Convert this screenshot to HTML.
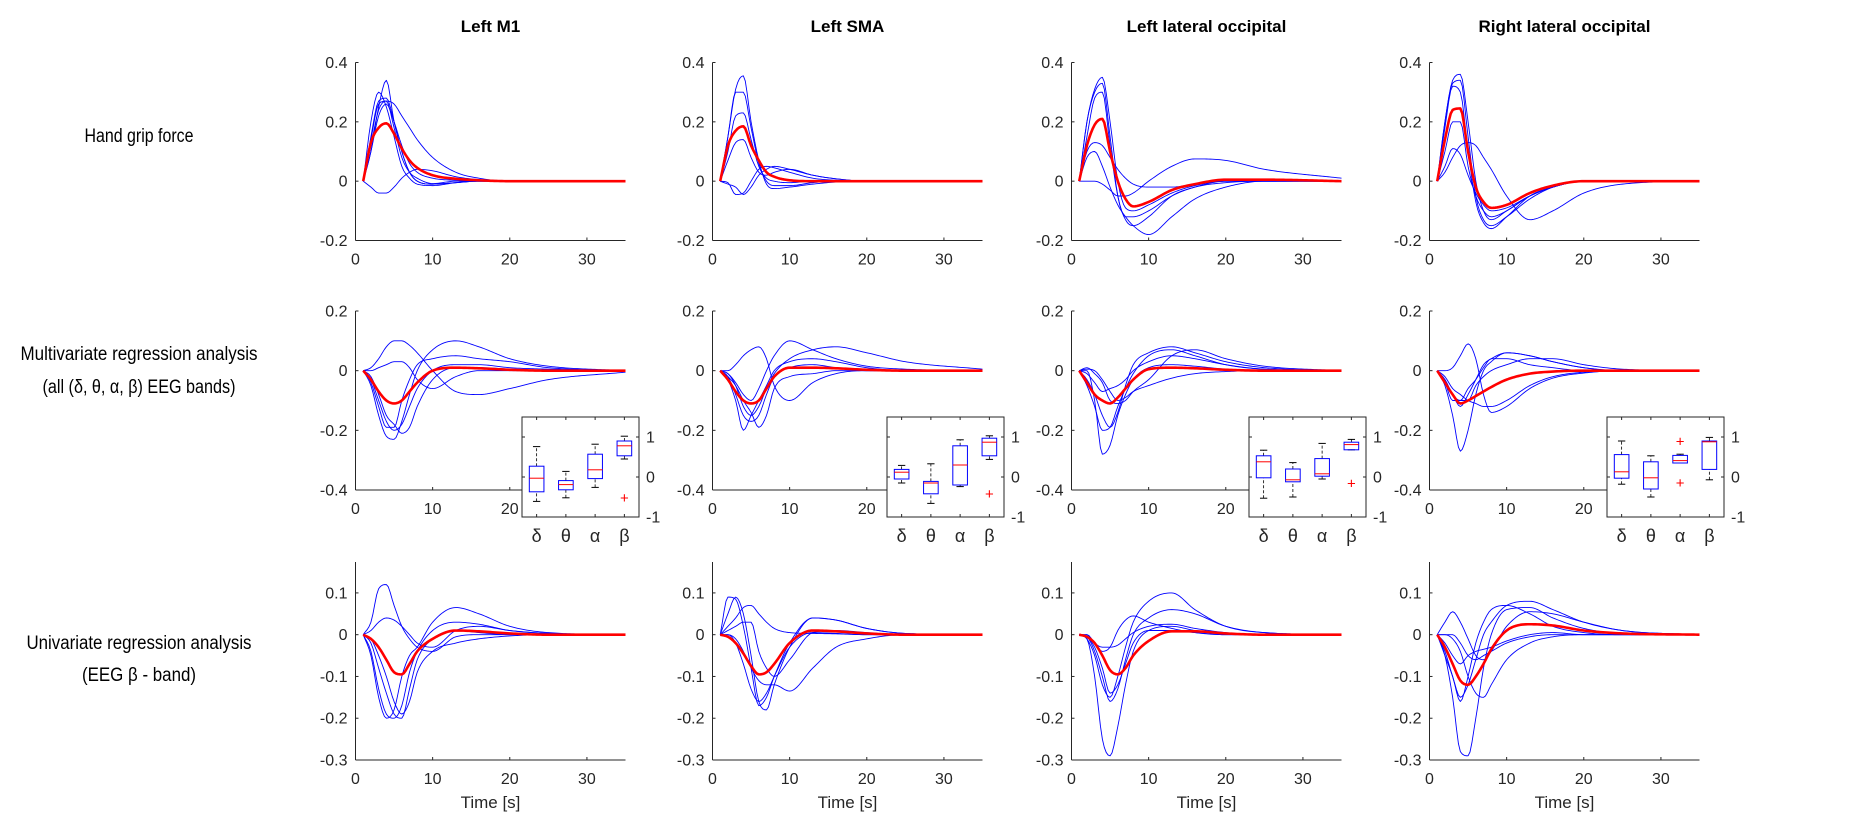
<!DOCTYPE html>
<html><head><meta charset="utf-8"><style>
html,body{margin:0;padding:0;background:#fff;}
svg{display:block;font-family:"Liberation Sans",Arial,sans-serif;}
</style></head><body>
<svg id="fig" width="1865" height="829" viewBox="0 0 1865 829" xmlns="http://www.w3.org/2000/svg">
<rect x="0" y="0" width="1865" height="829" fill="#fff"/>
<g font-family="'Liberation Sans',Arial,sans-serif" font-size="19" fill="#000" text-anchor="middle">
<text x="139" y="142" textLength="109" lengthAdjust="spacingAndGlyphs">Hand grip force</text>
<text x="139" y="360" textLength="237" lengthAdjust="spacingAndGlyphs">Multivariate regression analysis</text>
<text x="139" y="393" textLength="193" lengthAdjust="spacingAndGlyphs">(all (δ, θ, α, β) EEG bands)</text>
<text x="139" y="649" textLength="225" lengthAdjust="spacingAndGlyphs">Univariate regression analysis</text>
<text x="139" y="681" textLength="114" lengthAdjust="spacingAndGlyphs">(EEG β - band)</text>
</g>
<g id="plots"></g>
</svg>
<script>
// ---- data ----
const knotTimes = [1,2,3,4,5,6,7,8,10,13,16,20,25,35];
const colTitles = ["Left M1","Left SMA","Left lateral occipital","Right lateral occipital"];
const xTicks = [0,10,20,30];
const row1Ticks = [-0.2,0,0.2,0.4];
const row2Ticks = [-0.4,-0.2,0,0.2];
const row3Ticks = [-0.3,-0.2,-0.1,0,0.1];
const insetCats = ["δ","θ","α","β"];
const insetTicks = [-1,0,1];

// Row 1: hand grip force
const r1c1_red = [0,0.13,0.18,0.195,0.16,0.11,0.07,0.045,0.02,0.008,0.003,0,0,0];
const r1c1_blue = [
 [0,0.1,0.25,0.34,0.2,0.1,0.03,0,-0.01,-0.005,0,0,0,0],
 [0,0.2,0.3,0.25,0.15,0.05,0.01,-0.01,-0.015,-0.005,0,0,0,0],
 [0,0.15,0.27,0.28,0.2,0.1,0.03,0,-0.01,-0.005,0,0,0,0],
 [0,0.12,0.24,0.27,0.26,0.22,0.18,0.14,0.08,0.03,0.01,0,0,0],
 [0,-0.02,-0.04,-0.04,-0.02,0.01,0.03,0.04,0.035,0.015,0.005,0,0,0],
 [0,0.14,0.26,0.27,0.18,0.08,0.03,0.01,-0.008,0,0,0,0,0],
 [0,0.1,0.22,0.26,0.2,0.12,0.06,0.03,0.01,0.003,0,0,0,0]];
const r1c2_red = [0,0.12,0.17,0.185,0.12,0.07,0.03,0.015,0.003,0,0,0,0,0];
const r1c2_blue = [
 [0,0.15,0.31,0.355,0.2,0.07,-0.01,-0.025,-0.02,-0.01,-0.003,0,0,0],
 [0,0.15,0.3,0.3,0.18,0.06,0,-0.015,-0.015,-0.005,0,0,0,0],
 [0,0.1,0.22,0.23,0.14,0.05,0.01,0,-0.005,0,0,0,0,0],
 [0,0.07,0.13,0.14,0.08,0.03,0.02,0.03,0.04,0.02,0.008,0,0,0],
 [0,-0.005,-0.045,-0.04,0,0.04,0.05,0.045,0.03,0.01,0.003,0,0,0],
 [0,-0.01,-0.02,-0.045,-0.02,0.02,0.04,0.05,0.04,0.02,0.008,0,0,0]];
const r1c3_red = [0,0.12,0.19,0.21,0.1,0,-0.06,-0.085,-0.07,-0.03,-0.01,0.005,0.005,0];
const r1c3_blue = [
 [0,0.2,0.31,0.35,0.2,0,-0.09,-0.1,-0.08,-0.04,-0.015,0,0,0],
 [0,0.2,0.3,0.33,0.15,-0.05,-0.13,-0.15,-0.12,-0.05,-0.02,0,0,0],
 [0,0.15,0.28,0.3,0.12,-0.05,-0.12,-0.12,-0.1,-0.05,-0.02,-0.005,0,0],
 [0,0.08,0.1,0.05,-0.02,-0.08,-0.12,-0.15,-0.18,-0.12,-0.06,-0.02,0,0],
 [0,0,0,-0.01,-0.03,-0.05,-0.05,-0.04,0,0.05,0.075,0.07,0.04,0.01],
 [0,0.1,0.13,0.12,0.08,0.04,0.01,-0.01,-0.02,-0.02,-0.01,0,0,0]];
const r1c4_red = [0,0.14,0.24,0.245,0.1,-0.02,-0.07,-0.09,-0.08,-0.04,-0.015,0,0,0];
const r1c4_blue = [
 [0,0.2,0.34,0.36,0.2,0,-0.1,-0.13,-0.1,-0.05,-0.02,0,0,0],
 [0,0.2,0.33,0.34,0.15,-0.05,-0.13,-0.15,-0.12,-0.06,-0.02,0,0,0],
 [0,0.18,0.32,0.3,0.1,-0.07,-0.14,-0.16,-0.12,-0.05,-0.02,0,0,0],
 [0,0.1,0.2,0.2,0.05,-0.05,-0.1,-0.12,-0.1,-0.05,-0.02,0,0,0],
 [0,0.03,0.08,0.12,0.13,0.12,0.08,0.04,-0.05,-0.13,-0.1,-0.04,-0.01,0],
 [0,0.05,0.11,0.09,0.02,-0.04,-0.08,-0.1,-0.09,-0.05,-0.02,0,0,0]];

// Row 2: multivariate
const r2c1_red = [0,-0.03,-0.07,-0.1,-0.11,-0.1,-0.07,-0.04,0,0.01,0.008,0.003,0,0];
const r2c1_blue = [
 [0,0.01,0.04,0.08,0.1,0.1,0.085,0.06,0,-0.07,-0.08,-0.06,-0.03,-0.005],
 [0,0,0.01,0.02,0.03,0.03,0.01,-0.03,-0.06,-0.02,0,0,0,0],
 [0,-0.05,-0.15,-0.22,-0.23,-0.17,-0.08,0,0.07,0.1,0.08,0.04,0.015,0],
 [0,-0.04,-0.12,-0.19,-0.19,-0.1,-0.03,0.02,0.04,0.05,0.04,0.03,0.01,0],
 [0,-0.03,-0.1,-0.17,-0.2,-0.18,-0.12,-0.06,0,0.02,0.02,0.01,0.005,0],
 [0,-0.02,-0.08,-0.15,-0.18,-0.21,-0.19,-0.12,-0.03,0.01,0.01,0.005,0,0]];
const r2c2_red = [0,-0.03,-0.07,-0.1,-0.11,-0.1,-0.06,-0.02,0.01,0.01,0.008,0.003,0,0];
const r2c2_blue = [
 [0,0,0.02,0.05,0.07,0.08,0.04,-0.05,-0.1,-0.04,-0.01,0,0,0],
 [0,-0.01,-0.04,-0.08,-0.1,-0.06,0,0.05,0.1,0.07,0.04,0.015,0.005,0],
 [0,-0.01,-0.05,-0.12,-0.15,-0.12,-0.06,-0.01,0.04,0.07,0.08,0.06,0.03,0.005],
 [0,-0.03,-0.1,-0.2,-0.15,-0.1,-0.05,0,0.03,0.04,0.03,0.01,0,0],
 [0,-0.02,-0.08,-0.15,-0.17,-0.15,-0.08,-0.02,0.01,0.02,0.01,0,0,0],
 [0,-0.02,-0.05,-0.1,-0.14,-0.19,-0.15,-0.06,-0.02,-0.01,0,0,0,0]];
const r2c3_red = [0,-0.04,-0.08,-0.1,-0.11,-0.09,-0.06,-0.03,0.005,0.01,0.008,0.003,0,0];
const r2c3_blue = [
 [0,0,-0.1,-0.28,-0.25,-0.15,-0.08,-0.03,0.01,0.02,0.015,0.005,0,0],
 [0,-0.05,-0.12,-0.2,-0.19,-0.12,-0.06,-0.01,0.05,0.07,0.05,0.02,0.005,0],
 [0,-0.03,-0.08,-0.15,-0.19,-0.14,-0.05,0.02,0.06,0.08,0.06,0.03,0.01,0],
 [0,0.01,-0.01,-0.04,-0.1,-0.11,-0.1,-0.07,-0.03,0.05,0.07,0.04,0.015,0],
 [0,0.005,0,-0.03,-0.07,-0.1,-0.09,-0.07,-0.05,-0.025,-0.01,-0.003,0,0],
 [0,-0.01,-0.04,-0.07,-0.06,-0.05,-0.03,0,0.03,0.05,0.04,0.02,0.005,0]];
const r2c4_red = [0,-0.04,-0.08,-0.11,-0.1,-0.085,-0.07,-0.055,-0.03,-0.01,-0.003,0,0,0];
const r2c4_blue = [
 [0,0,0.01,0.05,0.09,0.04,-0.08,-0.14,-0.12,-0.06,-0.025,-0.008,0,0],
 [0,-0.05,-0.15,-0.27,-0.2,-0.08,0,0.03,0.06,0.05,0.03,0.01,0,0],
 [0,-0.03,-0.08,-0.12,-0.08,-0.03,0.02,0.04,0.06,0.05,0.03,0.01,0,0],
 [0,-0.04,-0.1,-0.1,-0.06,-0.03,0.01,0.04,0.04,0.02,0.01,0,0,0],
 [0,-0.02,-0.06,-0.08,-0.1,-0.11,-0.12,-0.12,-0.1,-0.05,-0.02,-0.005,0,0],
 [0,-0.03,-0.08,-0.1,-0.1,-0.05,-0.02,0,0.02,0.04,0.04,0.02,0.005,0]];

// Row 3: univariate
const r3c1_red = [0,-0.01,-0.03,-0.06,-0.09,-0.095,-0.07,-0.04,-0.01,0.01,0.008,0.003,0,0];
const r3c1_blue = [
 [0,0.03,0.11,0.12,0.07,0.02,-0.01,-0.03,-0.04,-0.005,0,0,0,0],
 [0,0.01,0.03,0.04,0.035,0.02,0,-0.02,-0.03,0.01,0.02,0.01,0.003,0],
 [0,-0.05,-0.15,-0.2,-0.18,-0.1,-0.05,-0.03,0.03,0.065,0.05,0.02,0.005,0],
 [0,-0.04,-0.13,-0.19,-0.2,-0.17,-0.09,-0.04,0.01,0.03,0.025,0.01,0.003,0],
 [0,-0.02,-0.08,-0.14,-0.19,-0.2,-0.13,-0.06,-0.01,0.01,0.005,0,0,0],
 [0,-0.01,-0.05,-0.1,-0.16,-0.19,-0.16,-0.09,-0.04,-0.02,-0.01,-0.003,0,0]];
const r3c2_red = [0,-0.005,-0.02,-0.045,-0.075,-0.095,-0.09,-0.07,-0.02,0.01,0.008,0.003,0,0];
const r3c2_blue = [
 [0,0.09,0.085,0.02,-0.08,-0.17,-0.15,-0.1,-0.02,0.04,0.035,0.015,0.003,0],
 [0,0.05,0.09,0.05,-0.05,-0.16,-0.18,-0.12,-0.03,0.04,0.035,0.015,0.003,0],
 [0,0.02,0.04,0.065,0.07,0.05,0.03,0.015,0.005,0.003,0.002,0,0,0],
 [0,0.01,0.02,0.03,0.03,-0.04,-0.08,-0.1,-0.06,0.005,0.01,0.005,0,0],
 [0,0,-0.02,-0.07,-0.13,-0.16,-0.14,-0.1,-0.03,0.005,0.003,0,0,0],
 [0,0,-0.01,-0.04,-0.08,-0.11,-0.12,-0.12,-0.135,-0.08,-0.03,-0.01,0,0]];
const r3c3_red = [0,-0.005,-0.02,-0.05,-0.085,-0.095,-0.08,-0.05,-0.015,0.008,0.008,0.003,0,0];
const r3c3_blue = [
 [0,-0.01,-0.1,-0.25,-0.29,-0.22,-0.12,-0.04,0.01,0.02,0.01,0.003,0,0],
 [0,-0.01,-0.05,-0.12,-0.15,-0.1,-0.03,0.03,0.08,0.1,0.06,0.02,0.005,0],
 [0,-0.005,-0.04,-0.1,-0.16,-0.13,-0.06,0,0.04,0.06,0.05,0.02,0.005,0],
 [0,0,-0.02,-0.04,-0.03,0.01,0.035,0.045,0.03,0.015,0.005,0,0,0],
 [0,0,-0.02,-0.03,-0.03,-0.025,-0.01,0.005,0.02,0.025,0.015,0.005,0,0],
 [0,-0.005,-0.03,-0.08,-0.14,-0.12,-0.07,-0.02,0.01,0.01,0.005,0,0,0]];
const r3c4_red = [0,-0.03,-0.07,-0.11,-0.12,-0.1,-0.07,-0.035,0.01,0.025,0.022,0.01,0.003,0];
const r3c4_blue = [
 [0,0.03,0.055,0.03,-0.01,-0.05,-0.06,-0.04,0.02,0.055,0.05,0.03,0.01,0],
 [0,-0.05,-0.15,-0.28,-0.29,-0.2,-0.08,0,0.06,0.065,0.04,0.015,0.003,0],
 [0,-0.04,-0.1,-0.15,-0.12,-0.06,0,0.03,0.07,0.08,0.06,0.03,0.01,0],
 [0,-0.05,-0.1,-0.16,-0.1,-0.02,0.03,0.06,0.07,0.05,0.02,0.005,0,0],
 [0,0,-0.01,-0.04,-0.1,-0.14,-0.15,-0.12,-0.06,-0.02,-0.005,0,0,0],
 [0,0,0,-0.02,-0.05,-0.06,-0.05,-0.04,-0.02,-0.005,0,0,0,0],
 [0,-0.02,-0.05,-0.07,-0.05,-0.04,-0.035,-0.03,-0.015,0,0.005,0,0,0]];

// Inset boxplots: [whiskerLow, q1, median, q3, whiskerHigh] per band (δ, θ, α, β)
const inset1_stats = [[-0.61,-0.37,-0.03,0.27,0.76],[-0.52,-0.32,-0.19,-0.09,0.14],[-0.26,-0.04,0.18,0.57,0.82],[0.45,0.53,0.78,0.9,1.02]];
const inset1_outliers = [[],[],[],[-0.53]];
const inset2_stats = [[-0.15,-0.05,0.12,0.19,0.29],[-0.66,-0.42,-0.15,-0.11,0.33],[-0.24,-0.2,0.3,0.78,0.93],[0.44,0.53,0.87,0.97,1.03]];
const inset2_outliers = [[],[],[],[-0.43]];
const inset3_stats = [[-0.53,-0.02,0.38,0.53,0.67],[-0.5,-0.12,-0.07,0.2,0.36],[-0.05,0.02,0.08,0.46,0.84],[0.68,0.68,0.81,0.87,0.94]];
const inset3_outliers = [[],[],[],[-0.16]];
const inset4_stats = [[-0.18,-0.03,0.13,0.56,0.9],[-0.5,-0.3,-0.02,0.38,0.53],[0.35,0.35,0.41,0.54,0.57],[-0.07,0.19,0.88,0.9,0.99]];
const inset4_outliers = [[],[],[0.89,-0.15],[]];

// ---- layout ----
const NS = "http://www.w3.org/2000/svg";
const colX = [355.5, 712.5, 1071.5, 1429.5];
const plotW = 270, xMax = 35;
const rowsCfg = [
 {top:62.5, bot:240.5, ymin:-0.2, ymax:0.4, ticks:row1Ticks, fmt:v=>v===0?"0":v.toFixed(1)},
 {top:311, bot:490, ymin:-0.4, ymax:0.2, ticks:row2Ticks, fmt:v=>v===0?"0":v.toFixed(1)},
 {top:562, bot:760, ymin:-0.3, ymax:0.174, ticks:row3Ticks, fmt:v=>v===0?"0":v.toFixed(1)}];
const panelData = [
 [[r1c1_red,r1c1_blue],[r1c2_red,r1c2_blue],[r1c3_red,r1c3_blue],[r1c4_red,r1c4_blue]],
 [[r2c1_red,r2c1_blue],[r2c2_red,r2c2_blue],[r2c3_red,r2c3_blue],[r2c4_red,r2c4_blue]],
 [[r3c1_red,r3c1_blue],[r3c2_red,r3c2_blue],[r3c3_red,r3c3_blue],[r3c4_red,r3c4_blue]]];
const insets = [
 {l:522, r:639, stats:inset1_stats, out:inset1_outliers},
 {l:887, r:1004, stats:inset2_stats, out:inset2_outliers},
 {l:1249, r:1366, stats:inset3_stats, out:inset3_outliers},
 {l:1607, r:1724, stats:inset4_stats, out:inset4_outliers}];
const insetTop = 417, insetBot = 517, insetYmin = -1, insetYmax = 1.5;
const AX = "#262626";

function mk(tag, attrs, parent){
  const e = document.createElementNS(NS, tag);
  for (const k in attrs) e.setAttribute(k, attrs[k]);
  parent.appendChild(e); return e;
}
function monotone(xs, ys){
  const n = xs.length, d = [], m = new Array(n);
  for (let i=0;i<n-1;i++) d.push((ys[i+1]-ys[i])/(xs[i+1]-xs[i]));
  m[0]=d[0]; m[n-1]=d[n-2];
  for (let i=1;i<n-1;i++) m[i] = (d[i-1]*d[i]<=0)?0:(d[i-1]+d[i])/2;
  for (let i=0;i<n-1;i++){
    if (d[i]===0){m[i]=0;m[i+1]=0;continue;}
    const a=m[i]/d[i], b=m[i+1]/d[i], s=a*a+b*b;
    if (s>9){const t=3/Math.sqrt(s); m[i]=t*a*d[i]; m[i+1]=t*b*d[i];}
  }
  return function(x){
    let i=0; while(i<n-2 && x>xs[i+1]) i++;
    const h=xs[i+1]-xs[i], t=(x-xs[i])/h, t2=t*t, t3=t2*t;
    return (2*t3-3*t2+1)*ys[i]+(t3-2*t2+t)*h*m[i]+(-2*t3+3*t2)*ys[i+1]+(t3-t2)*h*m[i+1];
  };
}

const root = document.getElementById("plots");
rowsCfg.forEach((rc, ri) => {
  colX.forEach((x0, ci) => {
    const g = mk("g", {}, root);
    
    
    const sx = t => x0 + t * plotW / xMax;
    const sy = v => rc.bot - (v - rc.ymin) * (rc.bot - rc.top) / (rc.ymax - rc.ymin);
    if (ri === 0) {
      const tt = mk("text", {x: x0 + plotW/2, y: 32, "text-anchor":"middle", "font-size":17, "font-weight":"bold", fill:"#000"}, g);
      tt.textContent = colTitles[ci];
      
      
    }
    const yax = mk("line", {x1:x0, y1:rc.top, x2:x0, y2:rc.bot, stroke:AX, "stroke-width":1}, g);
    
    
    const xax = mk("line", {x1:x0, y1:rc.bot, x2:x0+plotW, y2:rc.bot, stroke:AX, "stroke-width":1}, g);
    
    
    rc.ticks.forEach(v => {
      const y = sy(v);
      mk("line", {x1:x0, y1:y, x2:x0+3, y2:y, stroke:AX, "stroke-width":1}, g);
      const lb = mk("text", {x:x0-8, y:y+5.5, "text-anchor":"end", "font-size":16, fill:AX}, g);
      lb.textContent = rc.fmt(v);
      
      
    });
    xTicks.forEach(v => {
      const x = sx(v);
      mk("line", {x1:x, y1:rc.bot, x2:x, y2:rc.bot-3, stroke:AX, "stroke-width":1}, g);
      const lb = mk("text", {x:x, y:rc.bot+24, "text-anchor":"middle", "font-size":16, fill:AX}, g);
      lb.textContent = String(v);
      
      
    });
    if (ri === 2) {
      const xl = mk("text", {x:x0+plotW/2, y:rc.bot+48, "text-anchor":"middle", "font-size":17, fill:AX}, g);
      xl.textContent = "Time [s]";
      
      
    }
    const [red, blues] = panelData[ri][ci];
    const pathFor = vals => {
      const f = monotone(knotTimes, vals);
      let d = "";
      for (let t = 1; t <= 35.0001; t += 0.25) {
        d += (d ? "L" : "M") + sx(t).toFixed(2) + "," + sy(f(t)).toFixed(2);
      }
      return d;
    };
    blues.forEach((vals, k) => {
      const p = mk("path", {d:pathFor(vals), fill:"none", stroke:"#0000ff", "stroke-width":0.9, "stroke-linejoin":"round"}, g);
      
      
    });
    const rp = mk("path", {d:pathFor(red), fill:"none", stroke:"#ff0000", "stroke-width":2.6, "stroke-linejoin":"round"}, g);
    
    

    if (ri === 1) {
      const ins = insets[ci];
      const ig = mk("g", {}, g);
      
      
      const bx = c => ins.l + (c + 0.5) * (ins.r - ins.l) / 4;
      const by = v => insetBot - (v - insetYmin) * (insetBot - insetTop) / (insetYmax - insetYmin);
      mk("rect", {x:ins.l, y:insetTop, width:ins.r-ins.l, height:insetBot-insetTop, fill:"#fff", stroke:AX, "stroke-width":1}, ig);
      insetTicks.forEach(v => {
        const y = by(v);
        mk("line", {x1:ins.r, y1:y, x2:ins.r-3, y2:y, stroke:AX, "stroke-width":1}, ig);
        mk("line", {x1:ins.l, y1:y, x2:ins.l+3, y2:y, stroke:AX, "stroke-width":1}, ig);
        const lb = mk("text", {x:ins.r+7, y:y+5.5, "text-anchor":"start", "font-size":16, fill:AX}, ig);
        lb.textContent = String(v);
        
        
      });
      const hw = 0.25 * (ins.r - ins.l) / 4;
      insetCats.forEach((cat, c) => {
        const x = bx(c);
        mk("line", {x1:x, y1:insetBot, x2:x, y2:insetBot-3, stroke:AX, "stroke-width":1}, ig);
        mk("line", {x1:x, y1:insetTop, x2:x, y2:insetTop+3, stroke:AX, "stroke-width":1}, ig);
        const lb = mk("text", {x:x, y:542, "text-anchor":"middle", "font-size":18, fill:AX}, ig);
        lb.textContent = cat;
        
        
        const s = ins.stats[c];
        const bg = mk("g", {}, ig);
        
        
        mk("line", {x1:x, y1:by(s[0]), x2:x, y2:by(s[1]), stroke:"#000", "stroke-width":0.8, "stroke-dasharray":"3,2"}, bg);
        mk("line", {x1:x, y1:by(s[3]), x2:x, y2:by(s[4]), stroke:"#000", "stroke-width":0.8, "stroke-dasharray":"3,2"}, bg);
        mk("line", {x1:x-hw/2, y1:by(s[0]), x2:x+hw/2, y2:by(s[0]), stroke:"#000", "stroke-width":1}, bg);
        mk("line", {x1:x-hw/2, y1:by(s[4]), x2:x+hw/2, y2:by(s[4]), stroke:"#000", "stroke-width":1}, bg);
        mk("rect", {x:x-hw, y:by(s[3]), width:2*hw, height:Math.max(1, by(s[1])-by(s[3])), fill:"none", stroke:"#0000ff", "stroke-width":1}, bg);
        mk("line", {x1:x-hw, y1:by(s[2]), x2:x+hw, y2:by(s[2]), stroke:"#ff0000", "stroke-width":1}, bg);
        ins.out[c].forEach(v => {
          const o = mk("text", {x:x, y:by(v)+5, "text-anchor":"middle", "font-size":15, fill:"#ff0000"}, bg);
          o.textContent = "+";
          
          
        });
      });
    }
  });
});
</script>
</body></html>
